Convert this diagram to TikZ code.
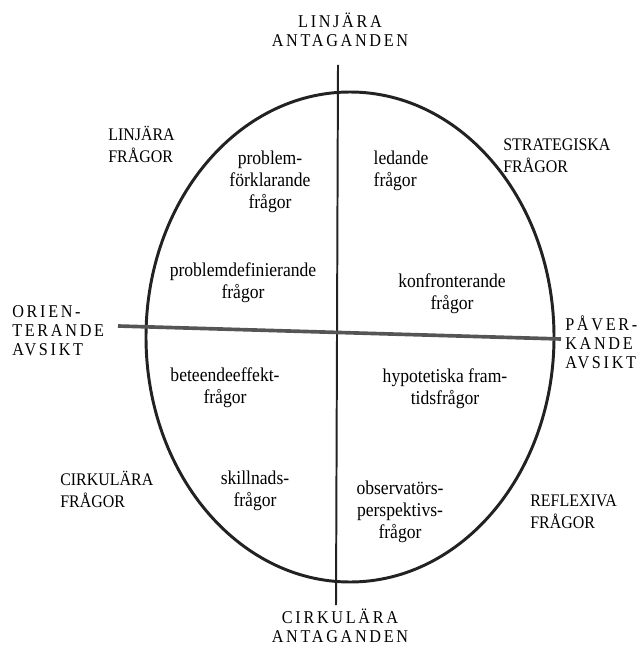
\documentclass[tikz,border=0pt]{standalone}
\usepackage{fontspec}
\setmainfont{Liberation Serif}
\newfontfamily\qfont[FakeStretch=0.9]{Liberation Serif}
\newfontfamily\spfont[FakeStretch=0.9,LetterSpace=15]{Liberation Serif}
\definecolor{ink}{HTML}{222222}
\definecolor{axisgray}{HTML}{555555}

\begin{document}
\begin{tikzpicture}[x=0.25mm,y=-0.25mm,
  inner/.style={font=\qfont\fontsize{13.9}{15.6}\selectfont,align=center,inner sep=0pt,text=black},
  corner/.style={font=\qfont\fontsize{12.6}{15.6}\selectfont,align=left,inner sep=0pt,anchor=west,text=black},
  spaced/.style={font=\spfont\fontsize{12.8}{13.5}\selectfont,inner sep=0pt,text=black}]
\useasboundingbox (0,0) rectangle (637,648);
\coordinate (N) at (338,65); \coordinate (S) at (336,605);
\coordinate (W) at (118,326); \coordinate (E) at (561,339);
\draw[line width=2.1pt,ink] (350,337) ellipse [x radius=204,y radius=245];
\draw[line width=1.4pt,ink] (N)--(S);
\draw[line width=2.6pt,axisgray] (W)--(E);
% axes
\node[spaced,align=center] (lin) at (340,30) {LINJÄRA\\ANTAGANDEN};
\node[spaced,align=center] (cirk) at (340,626) {CIRKULÄRA\\ANTAGANDEN};
\node[spaced,align=left,anchor=west] (ori) at (12,331) {ORIEN-\\TERANDE\\AVSIKT};
\node[spaced,align=left,anchor=west] (pav) at (565,342) {PÅVER-\\KANDE\\AVSIKT};
% quadrants
\node[corner] (linfr) at (108,144) {LINJÄRA\\FRÅGOR};
\node[corner] (strat) at (503,156) {STRATEGISKA\\FRÅGOR};
\node[corner] (cirkfr) at (60,489) {CIRKULÄRA\\FRÅGOR};
\node[corner] (refl) at (530,512) {REFLEXIVA\\FRÅGOR};
% inside
\node[inner] (forkl) at (270,182) {problem-\\förklarande\\frågor};
\node[inner,align=left] (led) at (401,171) {ledande\\frågor};
\node[inner] (def) at (243,283) {problemdefinierande\\frågor};
\node[inner] (konf) at (452,294) {konfronterande\\frågor};
\node[inner] (bet) at (225,388) {beteendeeffekt-\\frågor};
\node[inner] (hyp) at (445,389) {hypotetiska fram-\\tidsfrågor};
\node[inner] (skill) at (255,491) {skillnads-\\frågor};
\node[inner] (obs) at (400,512) {observatörs-\\perspektivs-\\frågor};
\end{tikzpicture}
\end{document}
